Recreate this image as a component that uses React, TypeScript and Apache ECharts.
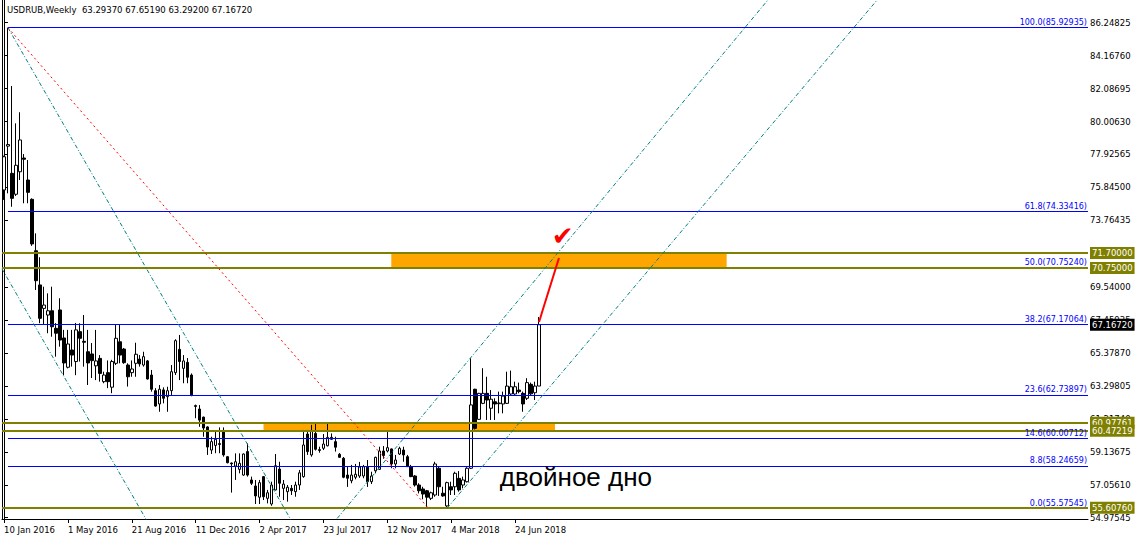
import React, { useEffect, useRef } from "react";
import * as echarts from "echarts";

const FONT = "DejaVu Sans";
const BAR_SLOTS = 272;
const DATE_TICK_BARS = [0, 16, 32, 48, 64, 80, 96, 112, 128];
const DATE_TICK_LABELS = ["10 Jan 2016", "1 May 2016", "21 Aug 2016", "11 Dec 2016", "2 Apr 2017", "23 Jul 2017", "12 Nov 2017", "4 Mar 2018", "24 Jun 2018"];
const PRICE_TICKS = [86.24825, 84.1676, 82.08695, 80.0063, 77.92565, 75.845, 73.76435, 69.54, 67.45935, 65.3787, 63.29805, 61.2174, 59.13675, 57.0561, 54.97545];
const Y_MIN = 54.8933;
const Y_MAX = 87.6824;
const HEADER = "USDRUB,Weekly  63.29370 67.65190 63.29200 67.16720";

const OPEN = [75.68, 78.45, 76.73, 75.41, 76.83, 77.7, 76.31, 75.09, 71.84, 69.68, 68.2, 67.78, 68.05, 66.94, 68.1, 66.33, 64.48, 65.57, 64.84, 66.73, 66.12, 65.46, 65.32, 64.57, 65.04, 63.57, 64.14, 63.22, 64.73, 66.09, 65.63, 64.62, 64.14, 64.73, 65.0, 64.62, 64.88, 63.99, 63.0, 62.16, 63.05, 62.62, 63.0, 64.14, 65.61, 64.41, 64.79, 63.99, 62.0, 61.84, 61.33, 60.71, 59.25, 59.54, 59.6, 60.41, 58.83, 58.43, 58.24, 58.03, 57.67, 59.15, 57.36, 56.98, 56.27, 57.57, 56.2, 55.84, 56.73, 58.05, 56.83, 56.62, 56.83, 56.62, 57.04, 57.57, 60.26, 58.94, 60.3, 59.22, 59.36, 59.52, 60.05, 59.78, 58.98, 58.73, 57.67, 57.31, 57.53, 57.61, 57.61, 58.2, 57.25, 57.94, 58.03, 59.19, 59.19, 59.32, 58.37, 59.0, 59.25, 58.83, 58.2, 57.61, 57.04, 56.79, 56.68, 56.2, 56.41, 58.1, 56.52, 55.72, 56.93, 56.93, 57.46, 57.04, 57.25, 58.1, 63.09, 61.19, 62.2, 62.83, 61.89, 62.3, 62.18, 62.16, 62.2, 62.79, 62.79, 63.04, 62.83, 62.52, 63.4, 62.87, 63.2937];
const CLOSE = [77.78, 78.55, 75.15, 77.24, 78.84, 77.62, 75.53, 72.27, 69.95, 67.57, 68.41, 68.05, 67.04, 66.63, 66.2, 64.75, 65.95, 65.25, 66.84, 66.31, 66.06, 64.75, 64.9, 64.88, 64.09, 63.99, 63.57, 64.84, 66.31, 65.25, 64.77, 63.88, 64.37, 65.3, 64.69, 65.15, 63.74, 63.09, 62.03, 63.09, 62.52, 63.0, 64.2, 66.16, 64.84, 64.88, 63.85, 62.69, 62.06, 61.14, 60.64, 59.44, 59.78, 59.93, 59.66, 58.94, 58.45, 58.38, 58.51, 58.41, 59.0, 57.67, 57.15, 56.35, 57.19, 56.3, 56.55, 57.04, 58.26, 57.15, 57.1, 56.9, 56.68, 57.04, 57.81, 59.57, 59.15, 60.42, 59.3, 59.28, 59.63, 60.05, 59.93, 59.43, 58.79, 57.53, 57.47, 57.67, 57.72, 58.18, 58.2, 57.25, 57.61, 58.79, 59.19, 58.9, 59.4, 58.37, 58.62, 59.36, 58.94, 58.2, 57.57, 57.04, 56.68, 56.47, 56.27, 56.55, 58.37, 56.93, 56.35, 57.19, 56.73, 57.78, 56.73, 57.36, 58.1, 62.1, 60.62, 62.83, 62.83, 62.41, 62.46, 62.16, 62.22, 62.66, 63.29, 63.25, 63.25, 62.94, 62.16, 63.51, 62.8, 63.29, 67.1672];
const LOW = [75.05, 75.47, 74.62, 75.3, 76.31, 74.84, 74.84, 72.15, 69.36, 67.26, 67.15, 66.63, 66.41, 65.15, 65.78, 63.98, 64.41, 64.52, 63.98, 64.84, 64.52, 63.36, 63.8, 63.67, 63.57, 63.47, 63.16, 62.84, 64.62, 64.73, 64.7, 63.26, 63.88, 63.88, 64.52, 64.52, 63.7, 62.94, 61.99, 61.67, 62.2, 61.67, 62.73, 63.99, 63.67, 63.47, 63.47, 62.65, 61.26, 60.72, 60.09, 58.94, 59.0, 59.05, 59.05, 58.83, 58.41, 56.56, 57.36, 57.78, 57.62, 57.57, 57.04, 55.84, 55.84, 56.09, 55.88, 55.73, 56.7, 56.3, 56.09, 55.99, 56.41, 56.3, 56.73, 57.5, 58.94, 58.83, 59.22, 59.08, 59.25, 59.48, 59.89, 59.15, 58.76, 57.47, 56.92, 57.15, 57.4, 57.49, 57.47, 56.92, 57.1, 57.78, 57.99, 58.7, 59.1, 58.1, 58.1, 58.94, 58.51, 58.18, 57.54, 56.94, 56.51, 56.14, 55.66, 56.09, 56.3, 56.35, 56.3, 55.58, 56.41, 56.41, 56.62, 56.83, 57.2, 58.05, 60.55, 61.15, 62.15, 61.15, 61.15, 61.15, 61.57, 61.57, 62.16, 62.73, 62.73, 62.83, 61.67, 62.41, 62.73, 62.41, 63.292];
const HIGH = [77.85, 85.93, 82.25, 79.89, 80.59, 77.95, 77.57, 75.15, 72.94, 71.43, 69.57, 69.15, 69.57, 67.27, 68.84, 66.84, 66.84, 66.84, 67.28, 67.26, 67.78, 66.84, 66.01, 66.84, 65.25, 64.2, 64.91, 64.95, 67.15, 67.15, 65.7, 64.73, 64.91, 66.03, 65.25, 65.46, 64.94, 64.31, 63.16, 63.36, 63.21, 63.25, 64.62, 66.25, 66.52, 65.25, 65.06, 64.09, 62.12, 62.09, 61.36, 60.75, 60.09, 60.41, 60.68, 60.68, 58.86, 58.46, 59.04, 59.04, 59.04, 59.67, 57.57, 57.36, 57.36, 57.61, 56.73, 57.25, 59.0, 58.51, 57.36, 57.04, 57.04, 57.25, 57.99, 60.52, 60.52, 60.84, 60.97, 59.46, 60.26, 60.9, 60.3, 60.09, 59.06, 58.81, 58.2, 58.31, 58.37, 58.5, 58.31, 58.62, 57.88, 58.83, 59.46, 59.5, 60.47, 59.35, 58.94, 59.46, 59.46, 58.94, 58.31, 57.67, 57.15, 56.93, 56.73, 56.62, 58.51, 58.2, 56.93, 57.25, 57.25, 57.88, 57.92, 57.57, 58.17, 65.05, 63.12, 62.86, 64.42, 63.88, 63.04, 62.52, 62.94, 62.94, 64.2, 64.27, 63.57, 63.51, 62.94, 63.79, 63.51, 63.57, 67.6519];

const FIB_LEVELS = [100.0, 61.8, 50.0, 38.2, 23.6, 14.6, 8.8, 0.0];
const FIB_PRICES = [85.92935, 74.33416, 70.7524, 67.17064, 62.73897, 60.00712, 58.24659, 55.57545];
const FIB_START_BAR = 1;

const LEVEL_PRICES = [71.7, 70.75, 60.97761, 60.47219, 55.6076];
const LAST_PRICE = 67.1672;

const ZONE_BARS = [[97, 181], [65, 138]];
const ZONE_PRICES = [[71.7, 70.75], [60.97761, 60.47219]];

const CHANNEL_DOWN_UPPER = [[1, 85.93], [80, 51.27]];
const CHANNEL_DOWN_LOWER = [[-0.5, 70.7], [40, 52.94]];
const RED_DIAGONAL = [[1, 85.93], [106, 55.66]];
const CHANNEL_UP_UPPER = [[82, 54.49], [195, 88.8]];
const CHANNEL_UP_LOWER = [[111, 55.58], [222, 88.67]];
const RED_ARROW = [[134, 67.34], [139, 71.38]];
const CHECK_POINT = [139.9, 72.75];
const NOTE_POINT = [143.25, 57.57];
const NOTE_TEXT = "двойное дно";

export default function App() {
  const ref = useRef<HTMLDivElement>(null);
  useEffect(() => {
    if (!ref.current) return;
    const chart = echarts.init(ref.current, undefined, { renderer: "svg" });
    const categories = Array.from({ length: BAR_SLOTS }, (_, i) => String(i));
    const candles = OPEN.map((o, i) => [o, CLOSE[i], LOW[i], HIGH[i]]);
    const tickSet = new Set(DATE_TICK_BARS);
    const teal = { color: "#008080", width: 1, type: [4, 2, 1, 2] as any };
    const trend = (data: number[][], lineStyle: any, z = 5) => ({
      type: "line",
      xAxisIndex: 1,
      yAxisIndex: 0,
      data,
      showSymbol: false,
      symbol: "none",
      silent: true,
      clip: true,
      z,
      lineStyle,
    });
    const option: any = {
      animation: false,
      backgroundColor: "#ffffff",
      grid: { left: 2, right: 48, top: 0, bottom: 22, containLabel: false },
      xAxis: [
        {
          type: "category",
          data: categories,
          boundaryGap: true,
          axisLine: { onZero: false, lineStyle: { color: "#000", width: 1 } },
          axisTick: {
            show: true,
            alignWithLabel: true,
            interval: (i: number) => tickSet.has(i),
            length: 4,
            lineStyle: { color: "#000" },
          },
          axisLabel: {
            interval: (i: number) => tickSet.has(i),
            formatter: (_v: string, i: number) => DATE_TICK_LABELS[DATE_TICK_BARS.indexOf(i)] ?? "",
            align: "left",
            margin: 6,
            fontSize: 8.5,
            fontFamily: FONT,
            color: "#000",
          },
          splitLine: { show: false },
        },
        { type: "value", min: -0.5, max: BAR_SLOTS - 0.5, show: false },
      ],
      yAxis: [
        {
          type: "value",
          position: "right",
          min: Y_MIN,
          max: Y_MAX,
          axisLine: { show: true, lineStyle: { color: "#000" } },
          axisTick: { show: true, customValues: PRICE_TICKS, length: 4, lineStyle: { color: "#000" } },
          axisLabel: {
            customValues: PRICE_TICKS,
            formatter: (v: number) => v.toFixed(5),
            margin: 2,
            fontSize: 8.5,
            fontFamily: FONT,
            color: "#000",
          },
          splitLine: { show: false },
        },
        {
          type: "value",
          position: "left",
          min: Y_MIN,
          max: Y_MAX,
          axisLine: { show: true, lineStyle: { color: "#000" } },
          axisTick: { show: false },
          axisLabel: { show: false },
          splitLine: { show: false },
        },
      ],
      graphic: [
        {
          type: "text",
          left: 7,
          top: 5,
          style: { text: HEADER, fontSize: 8.5, fontFamily: FONT, fill: "#000" },
        },
      ],
      series: [
        {
          type: "line",
          xAxisIndex: 1,
          yAxisIndex: 0,
          data: [],
          z: 1,
          silent: true,
          markArea: {
            silent: true,
            itemStyle: { color: "#FFA500" },
            data: ZONE_BARS.map((b, i) => [
              { coord: [b[0], ZONE_PRICES[i][0]] },
              { coord: [b[1], ZONE_PRICES[i][1]] },
            ]),
          },
        },
        {
          type: "candlestick",
          xAxisIndex: 0,
          yAxisIndex: 0,
          data: candles,
          barWidth: 3,
          z: 2,
          silent: true,
          itemStyle: {
            color: "#ffffff",
            color0: "#000000",
            borderColor: "#000000",
            borderColor0: "#000000",
            borderColorDoji: "#000000",
            borderWidth: 1,
          },
        },
        {
          type: "line",
          xAxisIndex: 1,
          yAxisIndex: 0,
          data: [],
          z: 3,
          silent: true,
          markLine: {
            silent: true,
            symbol: ["none", "none"],
            lineStyle: { color: "#0000ff", width: 1, type: "solid" },
            label: {
              show: true,
              position: "insideEndTop",
              distance: 1,
              color: "#0000ff",
              fontSize: 8,
              fontFamily: FONT,
            },
            data: FIB_PRICES.map((p, i) => [
              {
                coord: [FIB_START_BAR, p],
                label: { formatter: `${FIB_LEVELS[i].toFixed(1)}(${p.toFixed(5)})` },
              },
              { coord: [BAR_SLOTS - 0.5, p] },
            ]),
          },
        },
        trend(CHANNEL_DOWN_UPPER, teal),
        trend(CHANNEL_DOWN_LOWER, teal),
        trend(CHANNEL_UP_UPPER, teal),
        trend(CHANNEL_UP_LOWER, teal),
        trend(RED_DIAGONAL, { color: "#ff0000", width: 1, type: [2, 3] }),
        trend(RED_ARROW, { color: "#ff0000", width: 2, type: "solid" }, 6),
        {
          type: "line",
          xAxisIndex: 1,
          yAxisIndex: 0,
          data: [],
          z: 7,
          silent: true,
          markLine: {
            silent: true,
            symbol: ["none", "none"],
            lineStyle: { color: "#808000", width: 2, type: "solid" },
            label: {
              show: true,
              position: "end",
              distance: 2,
              color: "#ffffff",
              backgroundColor: "#808000",
              padding: [2, 2, 1, 2],
              fontSize: 8.5,
              fontFamily: FONT,
            },
            data: [
              ...LEVEL_PRICES.map((p) => ({ yAxis: p, label: { formatter: p.toFixed(5) } })),
              {
                yAxis: LAST_PRICE,
                lineStyle: { color: "rgba(0,0,0,0)", width: 0 },
                label: { formatter: LAST_PRICE.toFixed(5), backgroundColor: "#000000", color: "#ffffff" },
              },
            ],
          },
          markPoint: {
            silent: true,
            symbol: "circle",
            symbolSize: 1,
            itemStyle: { color: "rgba(0,0,0,0)" },
            data: [
              {
                coord: CHECK_POINT,
                label: {
                  show: true,
                  position: "inside",
                  formatter: "✔",
                  color: "#ff0000",
                  fontSize: 26,
                  fontFamily: FONT,
                },
              },
              {
                coord: NOTE_POINT,
                label: {
                  show: true,
                  position: "inside",
                  formatter: NOTE_TEXT,
                  color: "#000000",
                  fontSize: 26,
                  fontFamily: "Liberation Sans",
                },
              },
            ],
          },
        },
      ],
    };
    chart.setOption(option);
    return () => chart.dispose();
  }, []);
  return (
    <div
      ref={ref}
      style={{ position: "fixed", left: 0, top: 0, width: 1136, height: 541, background: "#fff" }}
    />
  );
}
